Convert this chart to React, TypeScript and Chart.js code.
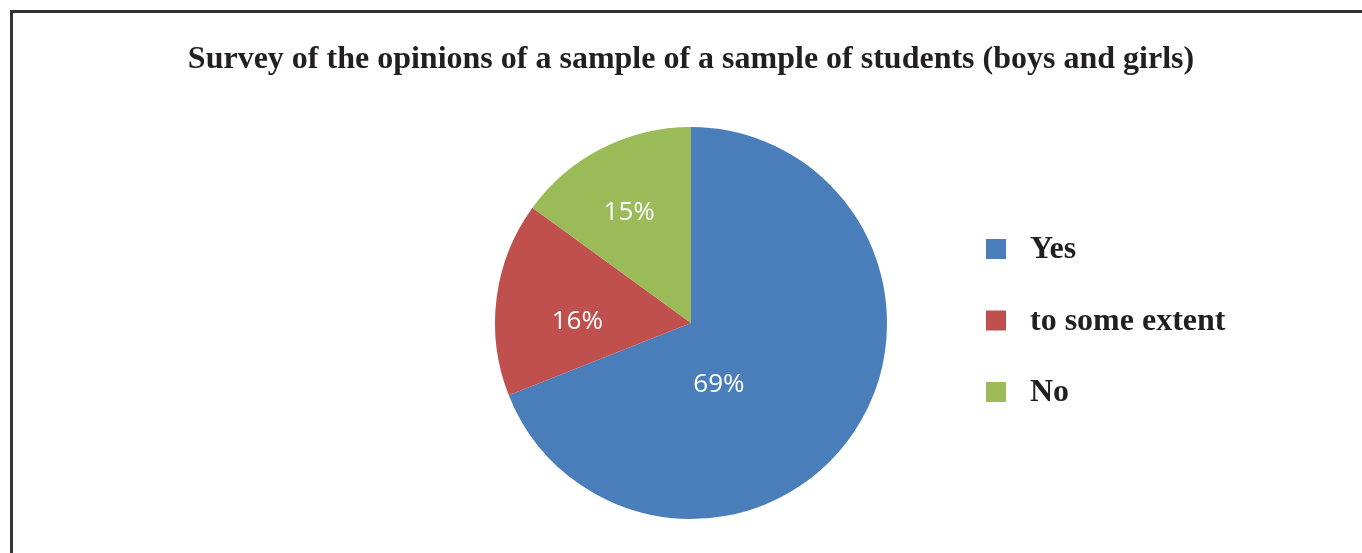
import { useEffect, useRef } from "react";
import { Chart, registerables } from "chart.js";

Chart.register(...registerables);

const titleText = "Survey of the opinions of a sample of a sample of students (boys and girls)";
const categories = ["Yes", "to some extent", "No"];
const percentages = [69, 16, 15];
const sliceColors = ["#4A7EBB", "#C0504D", "#9BBB59"];
// label placement inside each slice (style): fraction of radius and angular shift from mid-angle (deg)
const labelRadius = [0.34, 0.58, 0.65];
const labelAngleShift = [31, -6, -2];

const sliceLabelPlugin = {
  id: "sliceLabels",
  afterDatasetsDraw(chart: any) {
    const meta = chart.getDatasetMeta(0);
    const ctx = chart.ctx;
    ctx.save();
    ctx.fillStyle = "#ffffff";
    ctx.font = "26px 'Open Sans'";
    ctx.textAlign = "center";
    ctx.textBaseline = "middle";
    meta.data.forEach((arc: any, i: number) => {
      const p = arc.getProps(["x", "y", "startAngle", "endAngle", "outerRadius"], true);
      const a = (p.startAngle + p.endAngle) / 2 + (labelAngleShift[i] * Math.PI) / 180;
      const r = p.outerRadius * labelRadius[i];
      ctx.fillText(percentages[i] + "%", p.x + Math.cos(a) * r, p.y + Math.sin(a) * r + 1);
    });
    ctx.restore();
  },
};

const sideLegendPlugin = {
  id: "sideLegend",
  afterDraw(chart: any, _args: any, opts: any) {
    const ctx = chart.ctx;
    const ds = chart.data.datasets[0];
    ctx.save();
    ctx.font = opts.font;
    ctx.textBaseline = "middle";
    ctx.textAlign = "left";
    chart.data.labels.forEach((label: string, i: number) => {
      const cy = opts.top + i * opts.rowGap;
      ctx.fillStyle = ds.backgroundColor[i];
      ctx.fillRect(opts.left, cy - opts.box / 2, opts.box, opts.box);
      ctx.fillStyle = opts.color;
      ctx.fillText(label, opts.left + opts.box + opts.textGap, cy + 1);
    });
    ctx.restore();
  },
};

export default function App() {
  const canvasRef = useRef<HTMLCanvasElement | null>(null);

  useEffect(() => {
    if (!canvasRef.current) return;
    const chart = new Chart(canvasRef.current, {
      type: "pie",
      data: {
        labels: categories,
        datasets: [
          {
            data: percentages,
            backgroundColor: sliceColors,
            borderWidth: 0,
          },
        ],
      },
      options: {
        responsive: false,
        animation: false,
        devicePixelRatio: 1,
        layout: { padding: { left: 20, right: 0, top: 0, bottom: 34 } },
        plugins: {
          legend: { display: false },
          tooltip: { enabled: false },
          title: {
            display: true,
            text: titleText,
            color: "#231f20",
            font: { family: "'Liberation Serif'", size: 32, weight: "bold", lineHeight: 1.2 },
            padding: { top: 41, bottom: 47.6 },
          },
          sideLegend: {
            left: 986,
            top: 249,
            rowGap: 71.5,
            box: 20,
            textGap: 24,
            font: "bold 32px 'Liberation Serif'",
            color: "#231f20",
          },
        } as any,
      },
      plugins: [sliceLabelPlugin, sideLegendPlugin],
    });
    return () => chart.destroy();
  }, []);

  return (
    <div
      style={{
        position: "fixed",
        left: 0,
        top: 0,
        width: 1362,
        height: 553,
        overflow: "hidden",
        background: "#ffffff",
      }}
    >
      <div
        style={{
          position: "absolute",
          left: 10,
          top: 10,
          width: 1500,
          height: 700,
          border: "3px solid #333333",
          boxSizing: "border-box",
        }}
      />
      <canvas
        ref={canvasRef}
        width={1362}
        height={553}
        style={{ position: "absolute", left: 0, top: 0, width: 1362, height: 553 }}
      />
    </div>
  );
}
